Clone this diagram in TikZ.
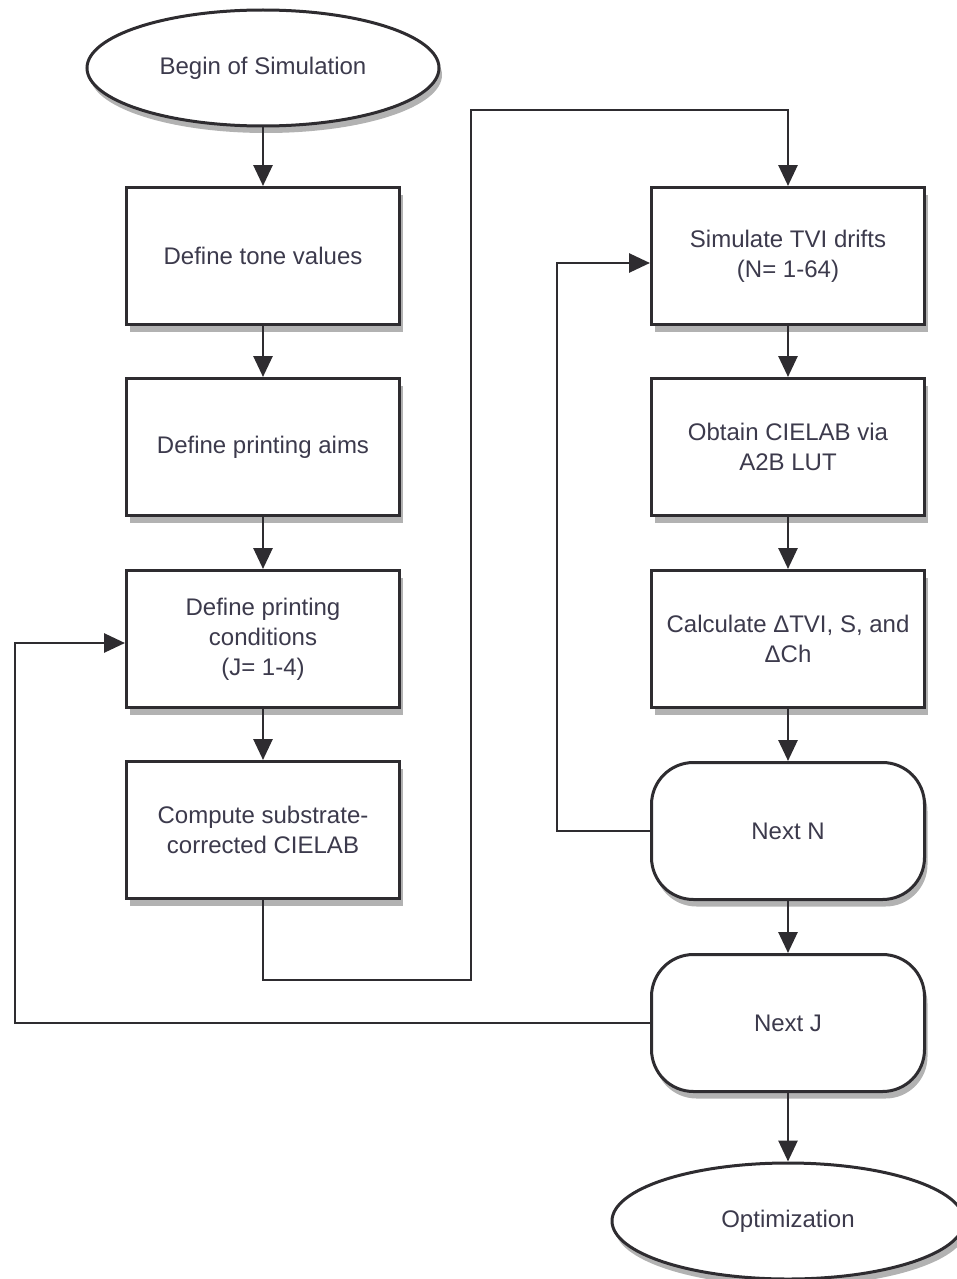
\documentclass[tikz,border=0pt]{standalone}
\usepackage{fontspec}
\setmainfont{Liberation Sans}
\usetikzlibrary{shapes.geometric,arrows.meta,shadows}
\definecolor{txt}{HTML}{3C3A4C}
\definecolor{ln}{HTML}{2E2C30}
\tikzset{
  base/.style={draw=ln, line width=3pt, fill=white, text=txt, font=\fontsize{24}{30}\selectfont, align=center, inner sep=0pt,
    drop shadow={shadow xshift=3pt, shadow yshift=-7pt, opacity=0.3, fill=black}},
  procbox/.style={base, rectangle, minimum width=273pt, minimum height=137pt},
  loopbox/.style={base, rectangle, rounded corners=42pt, minimum width=273pt, minimum height=137pt},
  termbox/.style={base, ellipse, minimum width=352pt, minimum height=116pt},
  conn/.style={draw=ln, line width=2.8pt},
  arr/.style={conn, -{Triangle[length=21pt,width=19pt]}},
}
\begin{document}
\begin{tikzpicture}[x=1pt,y=-1pt]
\useasboundingbox (0,0) rectangle (956,1279);
% left column
\node[termbox] (begin) at (263,68) {Begin of Simulation};
\node[procbox] (tone) at (263,256) {Define tone values};
\node[procbox] (aims) at (263,447) {Define printing aims};
\node[procbox] (cond) at (263,639) {Define printing\\conditions\\(J= 1-4)};
\node[procbox] (comp) at (263,830) {Compute substrate-\\corrected CIELAB};
% right column
\node[procbox] (sim) at (788,256) {Simulate TVI drifts\\(N= 1-64)};
\node[procbox] (obt) at (788,447) {Obtain CIELAB via\\A2B LUT};
\node[procbox] (calc) at (788,639) {Calculate ΔTVI, S, and\\ΔCh};
\node[loopbox] (nextn) at (788,831) {Next N};
\node[loopbox] (nextj) at (788,1023) {Next J};
\node[termbox] (opt) at (788,1221) {Optimization};
% helper coordinates
\coordinate (c1) at (263,980);
\coordinate (c2) at (471,980);
\coordinate (c3) at (471,110);
\coordinate (c4) at (788,110);
\coordinate (n1) at (557,831);
\coordinate (n2) at (557,263);
\coordinate (j1) at (15,1023);
\coordinate (j2) at (15,643);
% connectors
\draw[arr] (begin) -- (tone);
\draw[arr] (tone) -- (aims);
\draw[arr] (aims) -- (cond);
\draw[arr] (cond) -- (comp);
\draw[arr] (comp.south) -- (c1) -- (c2) -- (c3) -- (c4) -- (sim.north);
\draw[arr] (sim) -- (obt);
\draw[arr] (obt) -- (calc);
\draw[arr] (calc) -- (nextn);
\draw[arr] (nextn) -- (nextj);
\draw[arr] (nextj) -- (opt);
\draw[arr] (nextn.west) -- (n1) -- (n2) -- (sim.west |- n2);
\draw[arr] (nextj.west) -- (j1) -- (j2) -- (cond.west |- j2);
\end{tikzpicture}
\end{document}
